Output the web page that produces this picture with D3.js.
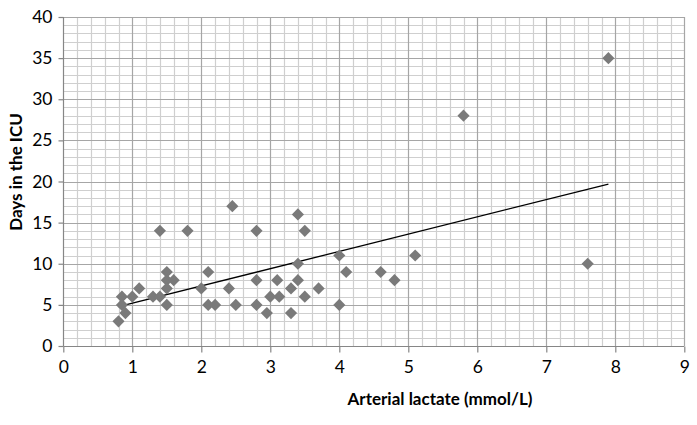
<!DOCTYPE html>
<html>
<head>
<meta charset="utf-8">
<script src="https://cdn.jsdelivr.net/npm/d3@7"></script>
<style>
  html, body { margin: 0; padding: 0; background: #fff; }
  svg { display: block; }
  text { font-family: Lato, "Open Sans", sans-serif; fill: #000; }
</style>
</head>
<body>
<svg id="chart" width="697" height="425"></svg>
<script>
// Data
const lactate = [0.8, 0.85, 0.85, 0.9, 1.0, 1.1, 1.3, 1.4, 1.4, 1.5, 1.5, 1.5, 1.5, 1.6, 1.8,
  2.0, 2.1, 2.1, 2.2, 2.4, 2.45, 2.5, 2.8, 2.8, 2.8, 2.95, 3.0, 3.1, 3.13, 3.3, 3.3,
  3.4, 3.4, 3.4, 3.5, 3.5, 3.7, 4.0, 4.0, 4.1, 4.6, 4.8, 5.1, 5.8, 7.6, 7.9];
const icuDays = [3, 6, 5, 4, 6, 7, 6, 6, 14, 9, 8, 7, 5, 8, 14,
  7, 9, 5, 5, 7, 17, 5, 14, 8, 5, 4, 6, 8, 6, 7, 4,
  16, 10, 8, 14, 6, 7, 11, 5, 9, 9, 8, 11, 28, 10, 35];
const xTicks = [0, 1, 2, 3, 4, 5, 6, 7, 8, 9];
const yTicks = [0, 5, 10, 15, 20, 25, 30, 35, 40];
const trendSlope = 2.1;
const trendIntercept = 3.1;
const xTitle = "Arterial lactate (mmol/L)";
const yTitle = "Days in the ICU";

(function () {
const svg = d3.select("#chart");
const pLeft = 63.3, pRight = 684.3, pTop = 17, pBottom = 346;

const x = d3.scaleLinear().domain([0, 9]).range([pLeft, pRight]);
const y = d3.scaleLinear().domain([0, 40]).range([pBottom, pTop]);

const g = svg.append("g");

// minor grid
const xMinor = d3.range(0, 9.0001, 0.2).filter(v => Math.abs(v - Math.round(v)) > 1e-6);
const yMinor = d3.range(0, 40.0001, 1).filter(v => v % 5 !== 0);
g.selectAll(".vminor").data(xMinor).join("line")
  .attr("x1", d => Math.round(x(d)) + 0.5).attr("x2", d => Math.round(x(d)) + 0.5)
  .attr("y1", pTop).attr("y2", pBottom)
  .attr("stroke", "#cfcfcf").attr("stroke-width", 1.2);
g.selectAll(".hminor").data(yMinor).join("line")
  .attr("y1", d => Math.round(y(d)) + 0.5).attr("y2", d => Math.round(y(d)) + 0.5)
  .attr("x1", pLeft).attr("x2", pRight)
  .attr("stroke", "#cfcfcf").attr("stroke-width", 1.2);
// major grid
g.selectAll(".vmajor").data(xTicks.slice(1)).join("line")
  .attr("x1", d => Math.round(x(d)) + 0.5).attr("x2", d => Math.round(x(d)) + 0.5)
  .attr("y1", pTop).attr("y2", pBottom)
  .attr("stroke", "#a6a6a6").attr("stroke-width", 1.2);
g.selectAll(".hmajor").data(yTicks.slice(1)).join("line")
  .attr("y1", d => Math.round(y(d)) + 0.5).attr("y2", d => Math.round(y(d)) + 0.5)
  .attr("x1", pLeft).attr("x2", pRight)
  .attr("stroke", "#a6a6a6").attr("stroke-width", 1.2);

// axes
const xAxis = d3.axisBottom(x).tickValues(xTicks).tickSize(6).tickPadding(8).tickFormat(d3.format("d"));
const yAxis = d3.axisLeft(y).tickValues(yTicks).tickSize(5).tickPadding(6).tickFormat(d3.format("d"));
const gx = svg.append("g").attr("transform", `translate(0,${Math.round(pBottom) + 0.5})`).call(xAxis);
const gy = svg.append("g").attr("transform", `translate(${Math.round(pLeft) + 0.5},0)`).call(yAxis);
[gx, gy].forEach(a => {
  a.select(".domain").attr("stroke", "#868686").attr("stroke-width", 1.2);
  a.selectAll(".tick line").attr("stroke", "#868686").attr("stroke-width", 1.2);
  a.selectAll(".tick text").style("font-size", "17.5px").style("font-family", "Lato, 'Open Sans', sans-serif").attr("fill", "#000");
});
gx.select(".domain").attr("d", `M${pLeft},0H${pRight}`);
gy.select(".domain").attr("d", `M0,${pTop}V${pBottom}`);

// trend line
const xs = d3.extent(lactate);
svg.append("line")
  .attr("x1", x(xs[0])).attr("y1", y(trendIntercept + trendSlope * xs[0]))
  .attr("x2", x(xs[1])).attr("y2", y(trendIntercept + trendSlope * xs[1]))
  .attr("stroke", "#000").attr("stroke-width", 1.3);

// points (diamonds)
const diamond = d3.symbol().type(d3.symbolSquare).size(74);
svg.selectAll(".pt").data(lactate.map((v, i) => [v, icuDays[i]])).join("path")
  .attr("d", diamond)
  .attr("transform", d => `translate(${x(d[0])},${y(d[1])}) rotate(45)`)
  .attr("fill", "#7a7a7a");

// titles
svg.append("text").attr("x", 440).attr("y", 405).attr("text-anchor", "middle")
  .style("font-size", "17px").style("font-weight", "bold").text(xTitle);
svg.append("text").attr("transform", `translate(22,172) rotate(-90)`).attr("text-anchor", "middle")
  .style("font-size", "17px").style("font-weight", "bold").text(yTitle);
})();
</script>
</body>
</html>
